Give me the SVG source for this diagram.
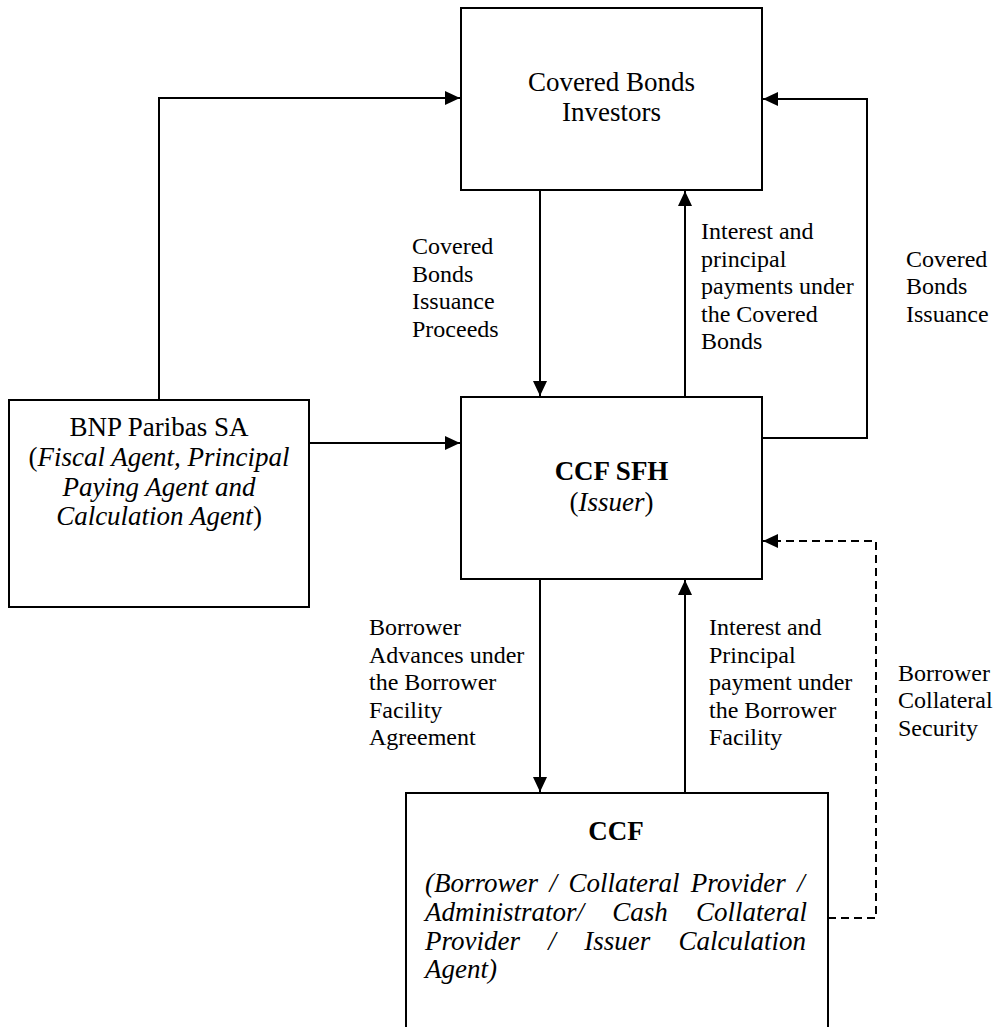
<svg xmlns="http://www.w3.org/2000/svg" width="997" height="1027" viewBox="0 0 997 1027">
<style>
.box{fill:#fff;stroke:#000;stroke-width:2}
.ln{fill:none;stroke:#000;stroke-width:2}
.dash{fill:none;stroke:#000;stroke-width:2;stroke-dasharray:8 5}
.t{font-family:"Liberation Serif","Times New Roman",serif;font-size:27px;fill:#000}
.lb{font-family:"Liberation Serif","Times New Roman",serif;font-size:24px;fill:#000}
.c{text-anchor:middle}
.b{font-weight:bold}
.i{font-style:italic}
</style>
<defs>
<marker id="ah" viewBox="0 0 15 14" refX="15" refY="7" markerWidth="15" markerHeight="14" markerUnits="userSpaceOnUse" orient="auto">
<path d="M0,0 L15,7 L0,14 z" fill="#000"/>
</marker>
</defs>
<rect width="997" height="1027" fill="#fff"/>
<g id="connectors">
<path class="ln" d="M159,400 V98 H460" marker-end="url(#ah)"/>
<path class="ln" d="M762,438 H867 V99 H763" marker-end="url(#ah)"/>
<path class="ln" d="M540,190 V396" marker-end="url(#ah)"/>
<path class="ln" d="M685,397 V191" marker-end="url(#ah)"/>
<path class="ln" d="M309,443 H460" marker-end="url(#ah)"/>
<path class="ln" d="M540,579 V792" marker-end="url(#ah)"/>
<path class="ln" d="M685,793 V580" marker-end="url(#ah)"/>
<path class="dash" d="M828,918 H876 V541 H763" marker-end="url(#ah)"/>
</g>
<g id="labels">
<text class="lb" x="412" y="254">Covered<tspan x="412" dy="27.6">Bonds</tspan><tspan x="412" dy="27.6">Issuance</tspan><tspan x="412" dy="27.6">Proceeds</tspan></text>
<text class="lb" x="701" y="239">Interest and<tspan x="701" dy="27.6">principal</tspan><tspan x="701" dy="27.6">payments under</tspan><tspan x="701" dy="27.6">the Covered</tspan><tspan x="701" dy="27.6">Bonds</tspan></text>
<text class="lb" x="906" y="266.6">Covered<tspan x="906" dy="27.6">Bonds</tspan><tspan x="906" dy="27.6">Issuance</tspan></text>
<text class="lb" x="369" y="635">Borrower<tspan x="369" dy="27.6">Advances under</tspan><tspan x="369" dy="27.6">the Borrower</tspan><tspan x="369" dy="27.6">Facility</tspan><tspan x="369" dy="27.6">Agreement</tspan></text>
<text class="lb" x="709" y="635">Interest and<tspan x="709" dy="27.6">Principal</tspan><tspan x="709" dy="27.6">payment under</tspan><tspan x="709" dy="27.6">the Borrower</tspan><tspan x="709" dy="27.6">Facility</tspan></text>
<text class="lb" x="898" y="681">Borrower<tspan x="898" dy="27.3">Collateral</tspan><tspan x="898" dy="27.3">Security</tspan></text>
</g>
<g id="investors">
<rect class="box" x="461" y="8" width="301" height="182"/>
<text class="t c" x="611.5" y="91">Covered Bonds</text>
<text class="t c" x="611.5" y="121">Investors</text>
</g>
<g id="bnp">
<rect class="box" x="9" y="400" width="300" height="207"/>
<text class="t c" x="159" y="436">BNP Paribas SA</text>
<text class="t c" x="159" y="466">(<tspan class="i">Fiscal Agent, Principal</tspan></text>
<text class="t c i" x="159" y="496">Paying Agent and</text>
<text class="t c" x="159" y="525"><tspan class="i">Calculation Agent</tspan>)</text>
</g>
<g id="ccfsfh">
<rect class="box" x="461" y="397" width="301" height="182"/>
<text class="t c b" x="611.5" y="480">CCF SFH</text>
<text class="t c" x="611.5" y="511">(<tspan class="i">Issuer</tspan>)</text>
</g>
<g id="ccf">
<rect class="box" x="406" y="793" width="422" height="260"/>
<text class="t c b" x="616" y="840">CCF</text>
<text class="t i" x="425" y="892" word-spacing="4.7">(Borrower / Collateral Provider /</text>
<text class="t i" x="425" y="921" word-spacing="21.5">Administrator/ Cash Collateral</text>
<text class="t i" x="425" y="950" word-spacing="21.6">Provider / Issuer Calculation</text>
<text class="t i" x="425" y="978">Agent)</text>
</g>
</svg>
